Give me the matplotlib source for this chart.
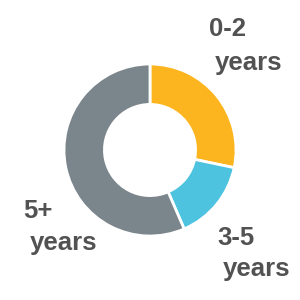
import matplotlib
matplotlib.use("Agg")
import matplotlib.pyplot as plt

# data
labels = ["0-2", "3-5", "5+"]
shares = [28.3, 15.2, 56.5]
colors = ["#FDB51F", "#4EC3E0", "#7B868C"]

# label positions in pixels (left, baseline) for the two lines
label_pos = {
    "0-2": ((209, 36), (215, 70)),
    "3-5": ((217, 245), (223, 276)),
    "5+": ((23, 218), (30, 250)),
}

W = H = 300
fig = plt.figure(figsize=(3, 3), dpi=100)
ax = fig.add_axes([0, 0, 1, 1])

r_px = 86
cx, cy = 150, 150
ax.pie(shares, colors=colors, startangle=90, counterclock=False,
       radius=1, wedgeprops=dict(width=0.47, edgecolor="white", linewidth=2))
ax.set_xlim(-cx / r_px, (W - cx) / r_px)
ax.set_ylim(-(H - cy) / r_px, cy / r_px)
ax.set_aspect("equal")
ax.axis("off")

for lab in labels:
    (x1, y1), (x2, y2) = label_pos[lab]
    fig.text(x1 / W, 1 - y1 / H, lab, ha="left", va="baseline",
             fontsize=18.5, fontweight="bold", color="#525252",
             family="Liberation Sans")
    fig.text(x2 / W, 1 - y2 / H, "years", ha="left", va="baseline",
             fontsize=18.5, fontweight="bold", color="#525252",
             family="Liberation Sans")

fig.savefig("out.png", dpi=100, facecolor="white")
